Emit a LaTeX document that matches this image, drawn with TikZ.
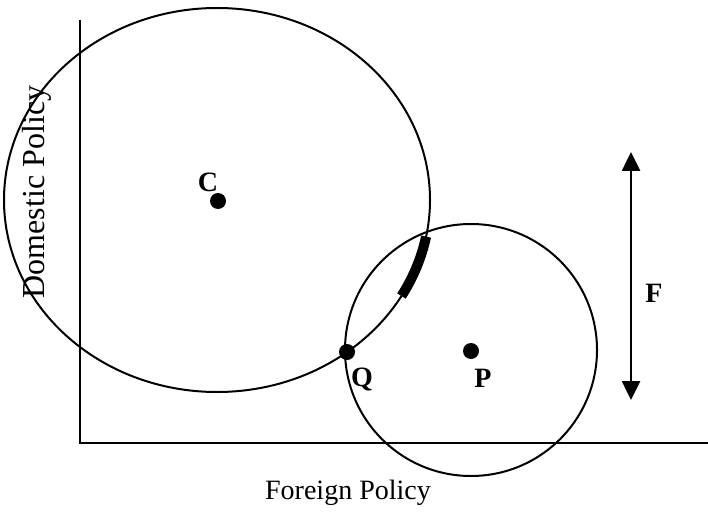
\documentclass[tikz,border=0pt]{standalone}
\usepackage{fontspec}
\setmainfont{Liberation Serif}
\usetikzlibrary{arrows.meta,positioning,calc}

\begin{document}
\begin{tikzpicture}[
    x=1pt, y=1pt,
    axis/.style={line width=2.8pt},
    curve/.style={line width=2pt},
    dot/.style={circle, fill=black, inner sep=0pt, minimum size=16pt},
    lbl/.style={font=\fontsize{28}{28}\selectfont\bfseries},
    axlbl/.style={font=\fontsize{28}{28}\selectfont},
    arrow/.style={{Triangle[length=19pt,width=18pt]}-{Triangle[length=19pt,width=18pt]}, line width=2.6pt}
]
    \useasboundingbox (0,0) rectangle (708,512);

    % Axes
    \coordinate (origin) at (80,69);
    \coordinate (ytop) at (80,492);
    \coordinate (xend) at (708,69);
    \draw[axis] (ytop) -- (origin) -- (xend);
    \node[axlbl, rotate=90, font=\fontsize{32}{32}\selectfont] (dom) at (37,320) {Domestic Policy};
    \node[axlbl] (for) at (348,19) {Foreign Policy};

    % Ideal points
    \coordinate (cc) at (217,312);
    \coordinate (pc) at (471,162);
    \draw[curve] (cc) ellipse [x radius=213, y radius=192];
    \draw[curve] (pc) circle [radius=126];

    % Thick arc on C's circle
    \draw[line width=10pt] ($(cc)+(-11:213 and 192)$) arc [start angle=-11, end angle=-30, x radius=213, y radius=192];

    \node[dot] (C) at (218,311) {};
    \node[dot] (P) at (471,161) {};
    \node[dot] (Q) at (347,160) {};
    \node[lbl] (Clbl) at (208,330) {C};
    \node[lbl] (Plbl) at (483,134) {P};
    \node[lbl] (Qlbl) at (362,133) {Q};

    % F range
    \coordinate (ftop) at (631,360);
    \coordinate (fbot) at (631,112);
    \draw[arrow] (ftop) -- (fbot);
    \node[lbl] (F) at (654,219) {F};
\end{tikzpicture}
\end{document}
